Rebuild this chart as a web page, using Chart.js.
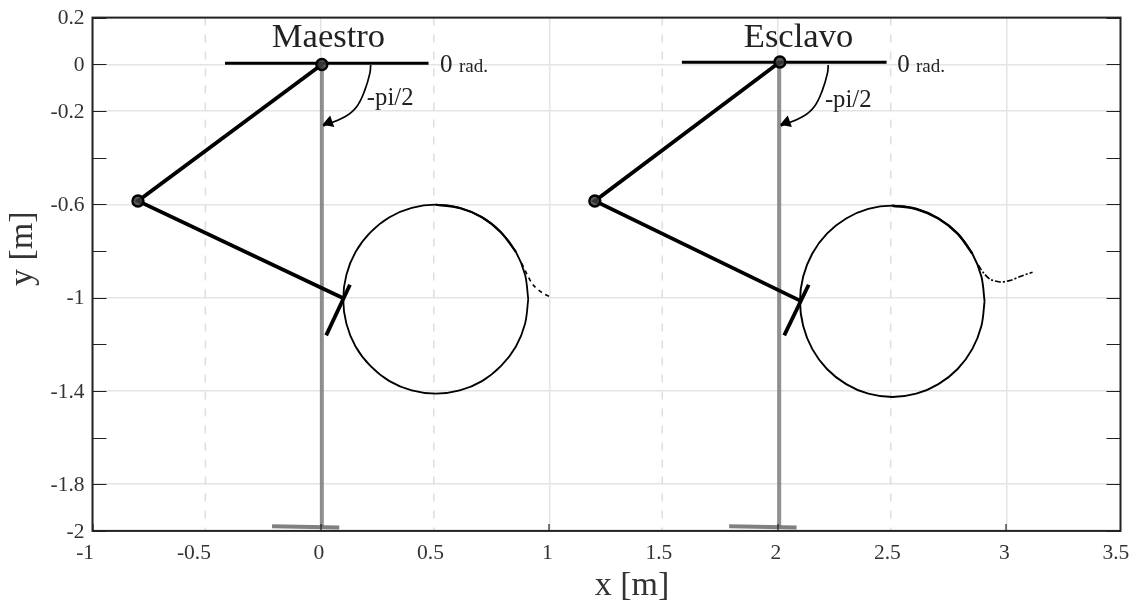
<!DOCTYPE html>
<html>
<head>
<meta charset="utf-8">
<title>Maestro / Esclavo</title>
<style>
    html, body { margin: 0; padding: 0; background: #fff; }
    canvas { display: block; }
</style>
<script src="https://cdn.jsdelivr.net/npm/chart.js@4"></script>
</head>
<body>
<canvas id="chart" width="1138" height="603"></canvas>
<script>
// ejes
const xTickValues = [-1, -0.5, 0, 0.5, 1, 1.5, 2, 2.5, 3, 3.5];
const xTickLabels = ['-1', '-0.5', '0', '0.5', '1', '1.5', '2', '2.5', '3', '3.5'];
const xLabelSpaces = [2, 4, 0, 1, 0, 1, 0, 1, 0, 1];
const yTickValues = [-2, -1.8, -1.6, -1.4, -1.2, -1, -0.8, -0.6, -0.4, -0.2, 0, 0.2];
const yTickLabels = ['-2', '-1.8', '', '-1.4', '', '-1', '', '-0.6', '', '-0.2', '0', '0.2'];
const dashedGridX = [-0.506, 0.494, 1.494, 2.494];

// maestro
const masterArmX = [0.004, -0.801, 0.098];
const masterArmY = [-0.001, -0.586, -1.003];
const masterToolX = [0.127, 0.023];
const masterToolY = [-0.945, -1.162];
const masterZeroX = [-0.42, 0.471];
const masterZeroY = [0.004, 0.004];
const masterDownX = [0.004, 0.004];
const masterDownY = [0, -1.983];
const masterBaseX = [-0.214, 0.08];
const masterBaseY = [-1.98, -1.985];
const masterJointX = [0.004, -0.801];
const masterJointY = [-0.001, -0.586];
const masterCircleX = [0.9075, 0.8935, 0.8535, 0.7885, 0.705, 0.6075, 0.5025, 0.3975, 0.3, 0.2165, 0.1515, 0.1115, 0.0975,
    0.1115, 0.1515, 0.2165, 0.3, 0.3975, 0.5025, 0.6075, 0.705, 0.7885, 0.8535, 0.8935, 0.9075];
const masterCircleY = [-1.007, -0.902, -0.8045, -0.721, -0.656, -0.616, -0.602, -0.616, -0.656, -0.721, -0.8045, -0.902, -1.007,
    -1.112, -1.2095, -1.293, -1.358, -1.398, -1.412, -1.398, -1.358, -1.293, -1.2095, -1.112, -1.007];
const masterTailX = [0.879, 0.9, 0.929, 0.973, 1.013];
const masterTailY = [-0.853, -0.896, -0.946, -0.982, -1];
const masterBendX = [0.2176, 0.2145, 0.1926, 0.1563, 0.105, 0.01];
const masterBendY = [-0.003, -0.037, -0.11, -0.182, -0.225, -0.264];

// esclavo
const slaveArmX = [2.009, 1.199, 2.097];
const slaveArmY = [0.01, -0.586, -1.013];
const slaveToolX = [2.135, 2.028];
const slaveToolY = [-0.945, -1.162];
const slaveZeroX = [1.58, 2.476];
const slaveZeroY = [0.009, 0.009];
const slaveDownX = [2.006, 2.006];
const slaveDownY = [0.009, -1.983];
const slaveBaseX = [1.787, 2.082];
const slaveBaseY = [-1.98, -1.985];
const slaveJointX = [2.009, 1.199];
const slaveJointY = [0.01, -0.586];
const slaveCircleX = [2.905, 2.891, 2.851, 2.787, 2.703, 2.606, 2.501, 2.396, 2.299, 2.215, 2.151, 2.111, 2.097,
    2.111, 2.151, 2.215, 2.299, 2.396, 2.501, 2.606, 2.703, 2.787, 2.851, 2.891, 2.905];
const slaveCircleY = [-1.016, -0.91, -0.811, -0.726, -0.661, -0.62, -0.606, -0.62, -0.661, -0.726, -0.811, -0.91, -1.016,
    -1.122, -1.221, -1.306, -1.371, -1.412, -1.426, -1.412, -1.371, -1.306, -1.221, -1.122, -1.016];
const slaveTailX = [2.877, 2.902, 2.929, 2.972, 3.016, 3.067, 3.115];
const slaveTailY = [-0.86, -0.896, -0.921, -0.933, -0.927, -0.907, -0.891];
const slaveBendX = [2.2206, 2.2175, 2.1956, 2.1593, 2.108, 2.013];
const slaveBendY = [-0.003, -0.037, -0.11, -0.182, -0.225, -0.264];

const arrowTipX = [0.035, 2.038];
const arrowTipY = [-0.2495, -0.2495];

// textos
const noteTexts = ['Maestro', 'Esclavo', '0', 'rad.', '0', 'rad.', '-pi/2', '-pi/2'];
const noteX = [-0.215, 1.851, 0.521, 0.604, 2.523, 2.605, 0.201, 2.206];
const noteY = [0.075, 0.075, -0.032, -0.032, -0.034, -0.034, -0.174, -0.182];
const noteSizes = [34.6, 34.6, 25, 19, 25, 19, 24.7, 24.7];

const SERIF = '"Liberation Serif"';
const pairs = (xs, ys) => xs.map((x, i) => ({x: x, y: ys[i]}));

function line(xs, ys, color, width, extra) {
    return Object.assign({
        data: pairs(xs, ys),
        showLine: true,
        borderColor: color,
        borderWidth: width,
        pointRadius: 0,
        borderCapStyle: 'butt'
    }, extra || {});
}

const curve = {tension: 0.34};
const BLACK = '#000';

const datasets = [
    // flechas
    {
        data: pairs(arrowTipX, arrowTipY),
        pointStyle: 'triangle',
        pointRotation: 250,
        pointRadius: 7,
        pointBackgroundColor: BLACK,
        pointBorderColor: BLACK,
        pointBorderWidth: 0,
        showLine: false
    },
    // articulaciones
    {
        data: pairs(masterJointX, masterJointY).concat(pairs(slaveJointX, slaveJointY)),
        pointRadius: 5.5,
        pointBackgroundColor: 'rgba(60,60,60,0.85)',
        pointBorderColor: BLACK,
        pointBorderWidth: 2.4,
        showLine: false
    },
    line(masterArmX, masterArmY, BLACK, 3.8),
    line(slaveArmX, slaveArmY, BLACK, 3.8),
    line(masterToolX, masterToolY, BLACK, 3.8),
    line(slaveToolX, slaveToolY, BLACK, 3.8),
    line(masterZeroX, masterZeroY, BLACK, 3),
    line(slaveZeroX, slaveZeroY, BLACK, 3),
    line(masterBendX, masterBendY, BLACK, 1.7, {tension: 0.4}),
    line(slaveBendX, slaveBendY, BLACK, 1.7, {tension: 0.4}),
    line(masterCircleX, masterCircleY, BLACK, 1.8, curve),
    line(slaveCircleX, slaveCircleY, BLACK, 1.9, curve),
    line(masterCircleX.slice(2, 7), masterCircleY.slice(2, 7), BLACK, 2.2, curve),
    line(slaveCircleX.slice(2, 7), slaveCircleY.slice(2, 7), BLACK, 2.5, curve),
    line(masterTailX, masterTailY, BLACK, 1.6, {tension: 0.3, borderDash: [4, 4]}),
    line(slaveTailX, slaveTailY, BLACK, 1.6, {tension: 0.3, borderDash: [6, 2, 2, 2]}),
    line(masterDownX, masterDownY, 'rgba(110,110,110,0.75)', 4),
    line(slaveDownX, slaveDownY, 'rgba(110,110,110,0.75)', 4),
    line(masterBaseX, masterBaseY, '#808080', 4),
    line(slaveBaseX, slaveBaseY, '#808080', 4)
].concat(dashedGridX.map(x => line([x, x], [0.2, -2], '#dddddd', 1.5, {borderDash: [8, 9]})));

// marco, marcas interiores y textos sobre la figura
const framePlugin = {
    id: 'frame',
    afterDatasetsDraw(chart) {
        const c = chart.ctx;
        const a = chart.chartArea;
        const xs = chart.scales.x;
        const ys = chart.scales.y;
        c.save();
        c.strokeStyle = '#222';
        c.lineWidth = 1.2;
        c.beginPath();
        yTickValues.forEach(v => {
            const p = Math.round(ys.getPixelForValue(v)) + 0.5;
            c.moveTo(a.left, p);
            c.lineTo(a.left + 14, p);
            c.moveTo(a.right, p);
            c.lineTo(a.right - 14, p);
        });
        xTickValues.filter(Number.isInteger).forEach(v => {
            const p = Math.round(xs.getPixelForValue(v));
            c.moveTo(p, a.bottom);
            c.lineTo(p, a.bottom - 7);
        });
        c.stroke();
        c.strokeStyle = '#222';
        c.lineWidth = 2;
        c.strokeRect(a.left, a.top, a.right - a.left, a.bottom - a.top);

        c.fillStyle = '#222';
        c.textAlign = 'left';
        c.textBaseline = 'alphabetic';
        noteTexts.forEach((t, i) => {
            c.font = noteSizes[i] + 'px ' + SERIF;
            c.fillText(t, xs.getPixelForValue(noteX[i]), ys.getPixelForValue(noteY[i]));
        });
        c.restore();
    }
};

new Chart(document.getElementById('chart'), {
    type: 'scatter',
    data: {datasets: datasets},
    plugins: [framePlugin],
    options: {
        responsive: false,
        animation: false,
        events: [],
        layout: {padding: {top: 17.6, right: 17.5, left: 0, bottom: 0}},
        plugins: {legend: {display: false}, tooltip: {enabled: false}, title: {display: false}},
        scales: {
            x: {
                type: 'linear',
                min: -1,
                max: 3.5,
                afterBuildTicks(scale) {
                    scale.ticks = xTickValues.map(v => ({value: v}));
                },
                afterFit(scale) {
                    scale.height = 72.1;
                    scale.paddingLeft = 0;
                    scale.paddingRight = 0;
                },
                grid: {
                    drawTicks: false,
                    lineWidth: 1.5,
                    color: ctx => Number.isInteger(ctx.tick.value) ? '#e4e4e4' : 'transparent'
                },
                border: {display: false},
                ticks: {
                    autoSkip: false,
                    maxRotation: 0,
                    labelOffset: -2,
                    padding: 10,
                    color: '#333',
                    font: {family: SERIF, size: 21.5},
                    callback: (v, i) => xTickLabels[i] + ' '.repeat(xLabelSpaces[i])
                },
                title: {
                    display: true,
                    text: '      x [m]',
                    color: '#333',
                    font: {family: SERIF, size: 34},
                    padding: {top: 0, bottom: -3}
                }
            },
            y: {
                type: 'linear',
                min: -2,
                max: 0.2,
                afterBuildTicks(scale) {
                    scale.ticks = yTickValues.map(v => ({value: v}));
                },
                afterFit(scale) {
                    scale.width = 92.5;
                    scale.paddingTop = 0;
                    scale.paddingBottom = 0;
                },
                grid: {
                    drawTicks: false,
                    lineWidth: 1.5,
                    color: ctx => yTickLabels[yTickValues.indexOf(ctx.tick.value)] ? '#e4e4e4' : 'transparent'
                },
                border: {display: false},
                ticks: {
                    autoSkip: false,
                    padding: 8,
                    labelOffset: 1,
                    color: '#333',
                    font: {family: SERIF, size: 21.5},
                    callback: (v, i) => yTickLabels[i]
                },
                title: {
                    display: true,
                    text: '      y [m]',
                    color: '#333',
                    font: {family: SERIF, size: 34},
                    padding: {top: 3, bottom: 0}
                }
            }
        }
    }
});
</script>
</body>
</html>
